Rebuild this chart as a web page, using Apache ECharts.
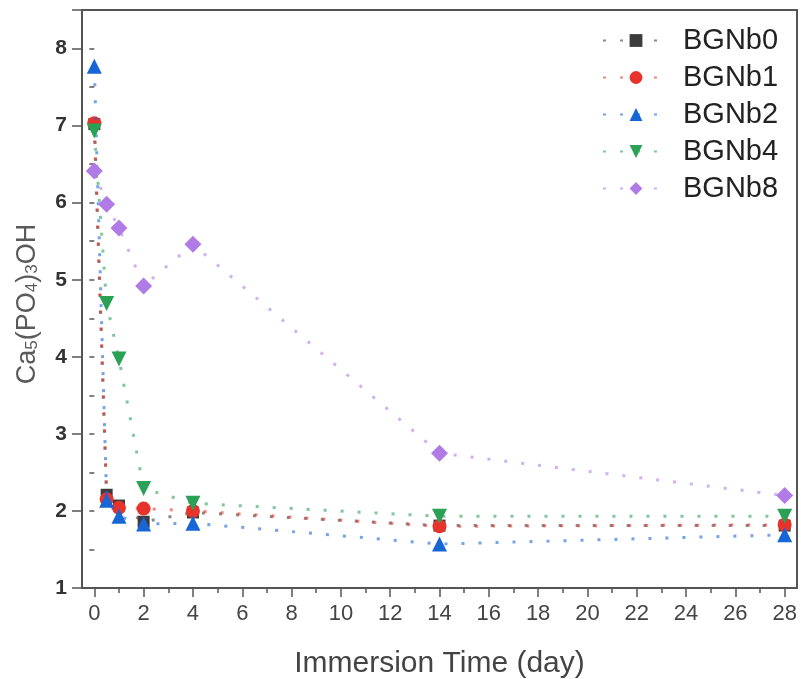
<!DOCTYPE html>
<html>
<head>
<meta charset="utf-8">
<script src="https://cdn.jsdelivr.net/npm/echarts@6/dist/echarts.min.js"></script>
<style>
  html, body { margin: 0; padding: 0; background: #fff; }
  #chart { width: 801px; height: 679px; }
</style>
</head>
<body>
<div id="chart"></div>
<script>
// Immersion times (days)
const days = [0, 0.5, 1, 2, 4, 14, 28];

// Ca5(PO4)3OH content per sample
const BGNb0 = [7.02, 2.21, 2.07, 1.86, 1.98, 1.81, 1.81];
const BGNb1 = [7.03, 2.15, 2.04, 2.03, 2.00, 1.80, 1.82];
const BGNb2 = [7.77, 2.14, 1.93, 1.83, 1.84, 1.57, 1.69];
const BGNb4 = [6.93, 4.69, 3.97, 2.29, 2.10, 1.93, 1.93];
const BGNb8 = [6.41, 5.98, 5.67, 4.92, 5.46, 2.75, 2.20];

const seriesNames = ['BGNb0', 'BGNb1', 'BGNb2', 'BGNb4', 'BGNb8'];
const seriesValues = [BGNb0, BGNb1, BGNb2, BGNb4, BGNb8];

// Axis ranges
const xMin = -0.5, xMax = 28.5;
const yMin = 1, yMax = 8.5;

const colors = ['#3c3c3c', '#e8332c', '#1766d6', '#2aa155', '#b07be6'];
const symbols = ['rect', 'circle', 'triangle', 'triangle', 'diamond'];
const symbolSizes = [12, 14, 15, 15, 17];
const symbolRotates = [0, 0, 0, 180, 0];

const FONT = '"Liberation Sans", Arial, sans-serif';
const AXIS_COLOR = '#555';

// Plot frame (grid 0) and a tick grid (grid 1) spanning exactly 0..28 days
const frameLeft = 82, frameRight = 4, frameTop = 10, frameBottom = 91;
const pxPerDay = (801 - frameLeft - frameRight) / (xMax - xMin);

const chart = echarts.init(document.getElementById('chart'));

const series = seriesNames.map((name, i) => ({
  name: name,
  type: 'line',
  xAxisIndex: 0,
  yAxisIndex: 0,
  data: days.map((d, k) => [d, seriesValues[i][k]]),
  symbol: symbols[i],
  symbolSize: symbolSizes[i],
  symbolRotate: symbolRotates[i],
  itemStyle: { color: colors[i], opacity: 1 },
  lineStyle: { color: colors[i], width: 3, type: [3, 14], opacity: 0.6 },
  z: 2 + i,
  animation: false
}));

chart.setOption({
  animation: false,
  textStyle: { fontFamily: FONT },
  grid: [
    {
      left: frameLeft, right: frameRight, top: frameTop, bottom: frameBottom,
      outerBoundsMode: 'none',
      show: true, borderColor: AXIS_COLOR, borderWidth: 2, backgroundColor: 'transparent'
    },
    {
      left: frameLeft + (0 - xMin) * pxPerDay,
      right: frameRight + (xMax - 28) * pxPerDay,
      top: frameTop, bottom: frameBottom,
      outerBoundsMode: 'none'
    }
  ],
  legend: {
    left: 602,
    top: 26,
    orient: 'vertical',
    itemWidth: 66,
    itemHeight: 16,
    itemGap: 8,
    padding: 0,
    data: seriesNames,
    textStyle: { fontSize: 29, color: '#222', fontFamily: FONT, padding: [0, 0, 0, 9] }
  },
  xAxis: [
    {
      gridIndex: 0, type: 'value', min: xMin, max: xMax,
      axisLine: { show: false }, axisTick: { show: false },
      axisLabel: { show: false }, splitLine: { show: false }
    },
    {
      gridIndex: 1, type: 'value', min: 0, max: 28, interval: 2,
      axisLine: { show: false },
      axisTick: { show: true, length: 9, lineStyle: { color: AXIS_COLOR, width: 1.5 } },
      minorTick: { show: true, splitNumber: 2, length: 5, lineStyle: { color: AXIS_COLOR, width: 1.5 } },
      axisLabel: { fontSize: 22, color: '#444', margin: 15, fontFamily: FONT },
      splitLine: { show: false },
      name: 'Immersion Time (day)',
      nameLocation: 'middle',
      nameGap: 61,
      nameTextStyle: { fontSize: 30, color: '#444', fontFamily: FONT }
    }
  ],
  yAxis: [
    {
      gridIndex: 0, type: 'value', position: 'left', min: yMin, max: yMax, interval: 0.5,
      axisLine: { show: false },
      axisTick: { show: true, length: 5, lineStyle: { color: AXIS_COLOR, width: 1.5 } },
      axisLabel: {
        fontSize: 21, color: '#333', fontWeight: 'bold', margin: 15, fontFamily: FONT,
        formatter: v => (Number.isInteger(v) ? String(v) : '')
      },
      splitLine: { show: false },
      name: 'Ca{sub|5}(PO{sub|4}){sub|3}OH',
      nameLocation: 'middle',
      nameGap: 41,
      nameTextStyle: {
        fontSize: 27, color: '#5a5a5a', fontFamily: FONT, padding: [0, 10, 0, 0],
        rich: {
          sub: { fontSize: 17, color: '#5a5a5a', fontFamily: FONT, verticalAlign: 'bottom', padding: [9, 0, 0, 0] }
        }
      }
    },
    {
      gridIndex: 0, type: 'value', position: 'left', min: yMin, max: yMax, interval: 1,
      axisLine: { show: false },
      axisTick: { show: true, length: 10, lineStyle: { color: AXIS_COLOR, width: 1.5 } },
      axisLabel: { show: false },
      splitLine: { show: false }
    },
    {
      gridIndex: 1, type: 'value', min: yMin, max: yMax, show: false
    }
  ],
  series: series
});
</script>
</body>
</html>
